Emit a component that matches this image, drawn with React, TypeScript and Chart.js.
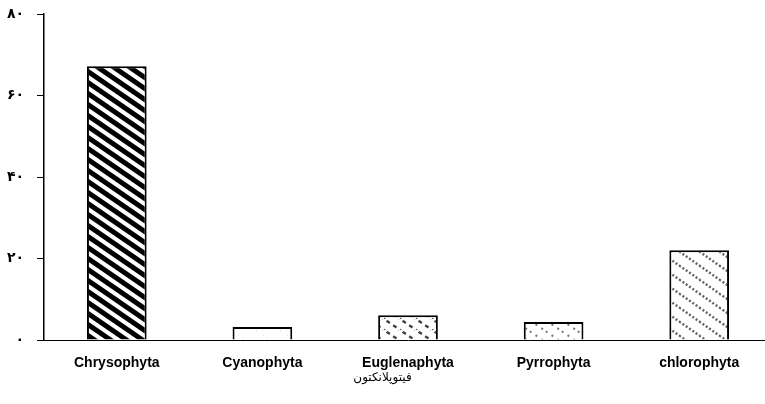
import React, { useEffect, useRef } from 'react';
import { Chart, registerables } from 'chart.js';
Chart.register(...registerables);

const categories = ['Chrysophyta', 'Cyanophyta', 'Euglenaphyta', 'Pyrrophyta', 'chlorophyta'];
const values = [67.2, 3.2, 6.1, 4.4, 22];
const yTickValues = [0, 20, 40, 60, 80];
const yTickLabels = ['۰', '۲۰', '۴۰', '۶۰', '۸۰'];
const xAxisTitle = 'فیتوپلانکتون';

const VISIBLE_WIDTH = 765;

type HatchOpts = { color: string; width: number; w: number; h: number; dash?: number[] };

function hatch(o: HatchOpts): CanvasPattern | string {
  const c = document.createElement('canvas');
  c.width = o.w;
  c.height = o.h;
  const ctx = c.getContext('2d');
  if (!ctx) return '#fff';
  ctx.fillStyle = '#fff';
  ctx.fillRect(0, 0, o.w, o.h);
  ctx.strokeStyle = o.color;
  ctx.lineWidth = o.width;
  ctx.lineCap = 'butt';
  if (o.dash) ctx.setLineDash(o.dash);
  const k = o.h / o.w;
  for (const off of [-o.w, 0, o.w]) {
    ctx.beginPath();
    ctx.moveTo(off - 4, -4 * k);
    ctx.lineTo(off + o.w + 4, o.h + 4 * k);
    ctx.stroke();
  }
  return ctx.createPattern(c, 'repeat') || '#fff';
}

const xTitlePlugin = {
  id: 'xTitlePlugin',
  afterDraw(chart: any) {
    const ctx = chart.ctx as CanvasRenderingContext2D;
    ctx.save();
    ctx.font = '12px "DejaVu Sans"';
    ctx.fillStyle = '#000';
    ctx.textAlign = 'center';
    ctx.textBaseline = 'middle';
    ctx.fillText(xAxisTitle, VISIBLE_WIDTH / 2, chart.chartArea.bottom + 38);
    ctx.restore();
  },
};

export default function App() {
  const ref = useRef<HTMLCanvasElement>(null);
  useEffect(() => {
    if (!ref.current) return;
    const patterns = [
      hatch({ color: '#000', width: 5, w: 16, h: 11 }),
      hatch({ color: '#c8c8c8', width: 1, w: 24, h: 16, dash: [1, 7] }),
      hatch({ color: '#444', width: 2.5, w: 16, h: 11, dash: [4, 4] }),
      hatch({ color: '#777', width: 2, w: 16, h: 11, dash: [2, 5] }),
      hatch({ color: '#666', width: 2.5, w: 20, h: 14, dash: [2, 2] }),
    ];
    const chart = new Chart(ref.current, {
      type: 'bar',
      data: {
        labels: categories,
        datasets: [
          {
            data: values,
            backgroundColor: patterns as any,
            borderColor: '#000',
            borderWidth: 2,
            borderSkipped: 'bottom',
            categoryPercentage: 1,
            barPercentage: 0.41,
          },
        ],
      },
      plugins: [xTitlePlugin],
      options: {
        responsive: false,
        animation: false,
        layout: { padding: { top: 14, left: 0, right: 3, bottom: 0 } },
        plugins: { legend: { display: false }, tooltip: { enabled: false } },
        scales: {
          x: {
            afterFit: (s: any) => {
              s.height = 64;
            },
            grid: { drawOnChartArea: false, drawTicks: false },
            border: { display: true, color: '#000', width: 1 },
            ticks: {
              color: '#000',
              padding: 15,
              font: { family: 'Liberation Sans', size: 14, weight: 'bold' },
            },
            title: { display: false },
          },
          y: {
            min: 0,
            max: 80,
            afterFit: (s: any) => {
              s.width = 44;
              s.paddingTop = 0;
              s.paddingBottom = 0;
            },
            afterBuildTicks: (s: any) => {
              s.ticks = yTickValues.map((v) => ({ value: v }));
            },
            grid: { drawOnChartArea: false, drawTicks: true, tickLength: 7, color: '#000' },
            border: { display: true, color: '#000', width: 1.5 },
            ticks: {
              color: '#000',
              padding: 13,
              font: { family: 'DejaVu Sans', size: 14, weight: 'bold' },
              callback: (v: any) => {
                const i = yTickValues.indexOf(Number(v));
                return i >= 0 ? yTickLabels[i] : '';
              },
            },
          },
        },
      },
    });
    return () => chart.destroy();
  }, []);
  return (
    <div style={{ position: 'fixed', left: 0, top: 0, width: VISIBLE_WIDTH, height: 404, overflow: 'hidden', background: '#fff' }}>
      <canvas ref={ref} width={775} height={404} style={{ width: 775, height: 404, display: 'block' }} />
    </div>
  );
}
